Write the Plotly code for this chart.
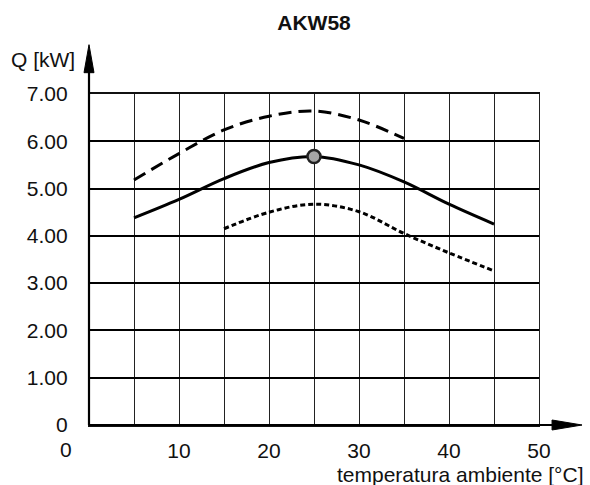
import plotly.graph_objects as go

# ---- data ----
x_solid = [5, 10, 15, 20, 25, 30, 35, 40, 45]
q_solid = [4.38, 4.77, 5.21, 5.55, 5.68, 5.50, 5.14, 4.67, 4.25]

x_long = [5, 10, 15, 20, 25, 30, 35]
q_long = [5.18, 5.74, 6.24, 6.53, 6.64, 6.45, 6.06]

x_short = [15, 20, 25, 30, 35, 40, 45]
q_short = [4.15, 4.50, 4.67, 4.51, 4.05, 3.64, 3.26]

marker_x = [25]
marker_q = [5.68]

x_tick_vals = [0, 10, 20, 30, 40, 50]
x_tick_text = ["0", "10", "20", "30", "40", "50"]
x_minor_vals = [5, 15, 25, 35, 45]
y_tick_vals = [0, 1, 2, 3, 4, 5, 6, 7]
y_tick_text = ["0", "1.00", "2.00", "3.00", "4.00", "5.00", "6.00", "7.00"]

FONT = "Arial, Liberation Sans, sans-serif"
FS = 21

fig = go.Figure()
fig.add_trace(go.Scatter(x=x_long, y=q_long, mode="lines",
                         line=dict(color="black", width=3, dash="13px,7px", shape="spline"),
                         hoverinfo="skip"))
fig.add_trace(go.Scatter(x=x_solid, y=q_solid, mode="lines",
                         line=dict(color="black", width=3, shape="spline"),
                         hoverinfo="skip"))
fig.add_trace(go.Scatter(x=x_short, y=q_short, mode="lines",
                         line=dict(color="black", width=3, dash="5px,3px", shape="spline"),
                         hoverinfo="skip"))
fig.add_trace(go.Scatter(x=marker_x, y=marker_q, mode="markers",
                         marker=dict(size=13, color="#a6a6a6", line=dict(color="#222", width=2.5)),
                         hoverinfo="skip"))

fig.update_layout(
    width=590, height=485,
    margin=dict(l=89, r=51, t=94, b=60),
    paper_bgcolor="white", plot_bgcolor="white",
    showlegend=False,
    font=dict(family=FONT, size=FS, color="#111"),
    title=dict(text="<b>AKW58</b>", x=0.5, xref="paper", xanchor="center",
               y=1 - 23 / 485, yanchor="middle", font=dict(size=FS, color="#111")),
    xaxis=dict(range=[0, 50], tickmode="array", tickvals=x_tick_vals[1:], ticktext=x_tick_text[1:],
               showgrid=True, gridcolor="#222", gridwidth=1, zeroline=False,
               showline=True, mirror=True, linecolor="#111", linewidth=1.5,
               ticks="", ticklabelstandoff=6,
               minor=dict(tickmode="array", tickvals=x_minor_vals, showgrid=True,
                          gridcolor="#222", gridwidth=1, ticks="")),
    yaxis=dict(range=[0, 7], tickmode="array", tickvals=y_tick_vals, ticktext=y_tick_text,
               showgrid=True, gridcolor="black", gridwidth=1.5, zeroline=False,
               showline=True, mirror=True, linecolor="#222", linewidth=1.2,
               ticks="", ticklabelstandoff=16),
)

# axis lines with arrows (paper coords)
fig.add_shape(type="line", xref="paper", yref="paper", x0=0, y0=0, x1=1.04, y1=0,
              line=dict(color="black", width=2.2))
fig.add_shape(type="line", xref="paper", yref="paper", x0=0, y0=0, x1=0, y1=1.08,
              line=dict(color="black", width=2.2))
fig.add_shape(type="path", xref="paper", yref="paper",
              path="M 1.0956,0 L 1.029,0.0151 L 1.029,-0.0151 Z",
              fillcolor="black", line=dict(color="black", width=1))
fig.add_shape(type="path", xref="paper", yref="paper",
              path="M 0,1.149 L -0.0111,1.0644 L 0.0111,1.0644 Z",
              fillcolor="black", line=dict(color="black", width=1))

# x "0" label (offset left as in reference)
fig.add_annotation(text=x_tick_text[0], xref="paper", yref="paper",
                   x=-0.0518, y=-0.0726, xanchor="center", yanchor="middle",
                   showarrow=False, font=dict(size=FS))
# axis titles
fig.add_annotation(text="temperatura ambiente [°C]", xref="paper", yref="paper",
                   x=1.1044, y=-0.150, xanchor="right", yanchor="middle",
                   showarrow=False, font=dict(size=FS))
fig.add_annotation(text="Q [kW]", xref="paper", yref="paper",
                   x=-0.0267, y=1.1037, xanchor="right", yanchor="middle",
                   showarrow=False, font=dict(size=FS))

fig.write_html("out.html")
